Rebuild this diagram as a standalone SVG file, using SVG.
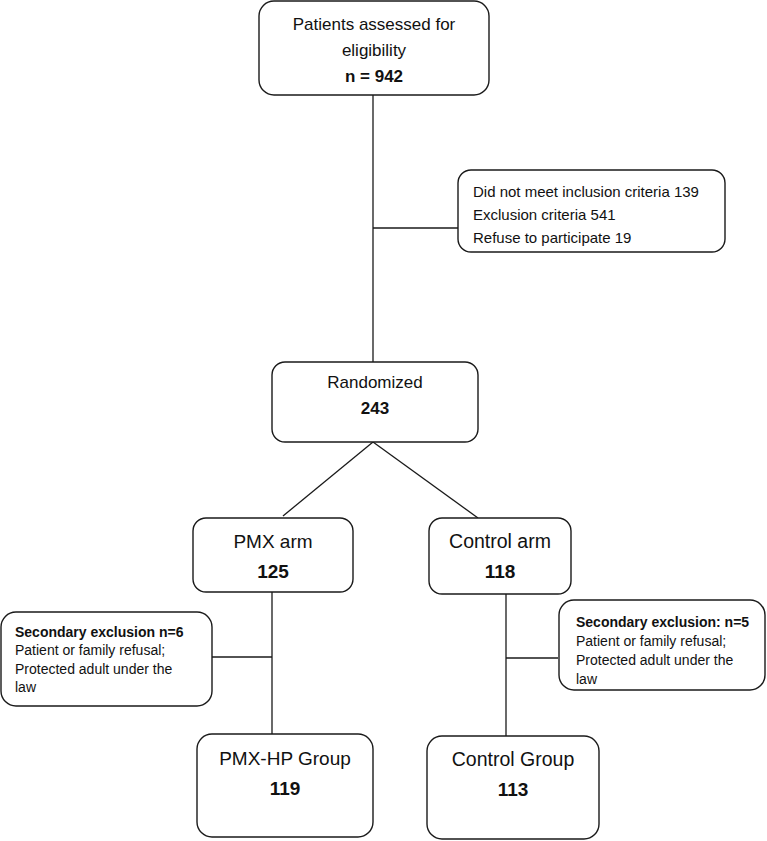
<svg xmlns="http://www.w3.org/2000/svg" width="767" height="841" viewBox="0 0 767 841">
<style>
.box{fill:#fff;stroke:#1a1a1a;stroke-width:1.4}
.c{fill:none;stroke:#1a1a1a;stroke-width:1.3}
text{font-family:"Liberation Sans",Arial,sans-serif;fill:#111}
.m{text-anchor:middle}
.b{font-weight:bold}
</style>
<rect width="767" height="841" fill="#fff"/>
<g id="connectors">
<line class="c" x1="373" y1="95" x2="373" y2="362"/>
<line class="c" x1="373" y1="228" x2="458" y2="228"/>
<line class="c" x1="373" y1="442" x2="283" y2="516"/>
<line class="c" x1="373" y1="442" x2="478" y2="518"/>
<line class="c" x1="272" y1="592" x2="272" y2="734"/>
<line class="c" x1="212" y1="657" x2="272" y2="657"/>
<line class="c" x1="506" y1="594" x2="506" y2="736"/>
<line class="c" x1="506" y1="658" x2="558" y2="658"/>
</g>
<g id="assessed">
<rect class="box" x="259" y="1" width="230" height="94" rx="15"/>
<text class="m" x="374" y="30" font-size="17">Patients assessed for</text>
<text class="m" x="374" y="56" font-size="17">eligibility</text>
<text class="m b" x="374" y="82" font-size="17">n = 942</text>
</g>
<g id="excluded">
<rect class="box" x="458" y="170" width="267" height="82" rx="13"/>
<text x="473" y="197" font-size="15">Did not meet inclusion criteria 139</text>
<text x="473" y="220" font-size="15">Exclusion criteria 541</text>
<text x="473" y="243" font-size="15">Refuse to participate 19</text>
</g>
<g id="randomized">
<rect class="box" x="272" y="362" width="206" height="80" rx="13"/>
<text class="m" x="375" y="388" font-size="17">Randomized</text>
<text class="m b" x="375" y="414" font-size="17">243</text>
</g>
<g id="pmx-arm">
<rect class="box" x="193" y="518" width="160" height="74" rx="13"/>
<text class="m" x="273" y="548" font-size="19">PMX arm</text>
<text class="m b" x="273" y="578" font-size="19">125</text>
</g>
<g id="control-arm">
<rect class="box" x="429" y="518" width="142" height="76" rx="13"/>
<text class="m" x="500" y="548" font-size="19.5">Control arm</text>
<text class="m b" x="500" y="578" font-size="19">118</text>
</g>
<g id="secondary-pmx">
<rect class="box" x="1" y="612" width="211" height="94" rx="15"/>
<text class="b" x="15" y="637" font-size="14">Secondary exclusion n=6</text>
<text x="15" y="655" font-size="14">Patient or family refusal;</text>
<text x="15" y="674" font-size="14">Protected adult under the</text>
<text x="15" y="692" font-size="14">law</text>
</g>
<g id="secondary-control">
<rect class="box" x="559" y="600" width="206" height="90" rx="15"/>
<text class="b" x="576" y="627" font-size="14">Secondary exclusion: n=5</text>
<text x="576" y="646" font-size="14">Patient or family refusal;</text>
<text x="576" y="665" font-size="14">Protected adult under the</text>
<text x="576" y="684" font-size="14">law</text>
</g>
<g id="pmx-hp-group">
<rect class="box" x="197" y="734" width="176" height="103" rx="15"/>
<text class="m" x="285" y="765" font-size="19">PMX-HP Group</text>
<text class="m b" x="285" y="795" font-size="19">119</text>
</g>
<g id="control-group">
<rect class="box" x="427" y="736" width="172" height="103" rx="15"/>
<text class="m" x="513" y="766" font-size="19.5">Control Group</text>
<text class="m b" x="513" y="796" font-size="19">113</text>
</g>
</svg>
